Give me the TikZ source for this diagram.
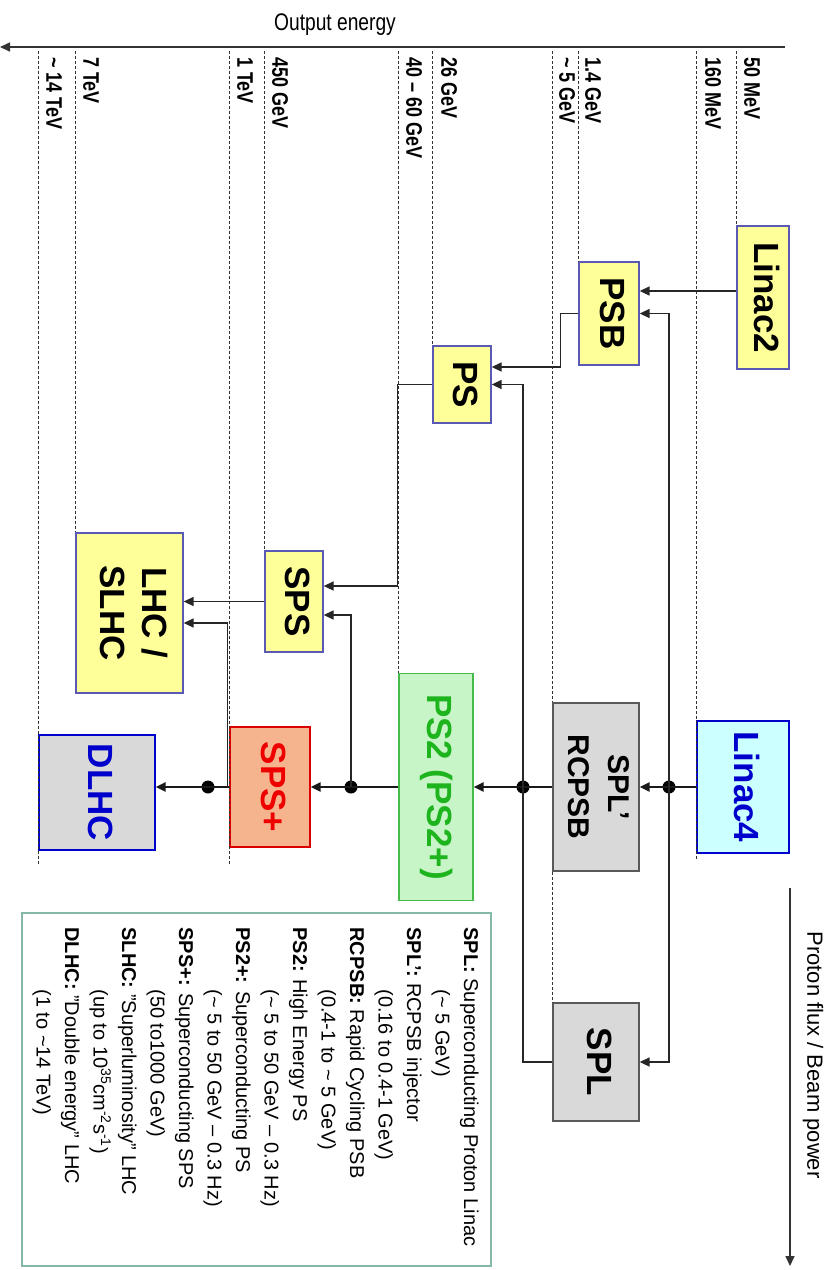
\documentclass[tikz,border=0pt]{standalone}
\usepackage{fontspec}
\setmainfont{Liberation Sans}
\newfontfamily\narrowfont[FakeStretch=0.8]{Liberation Sans}
\usetikzlibrary{arrows.meta}

\definecolor{boxyellow}{HTML}{FFFF99}
\definecolor{boxblue}{HTML}{5A5AB4}
\definecolor{boxgrey}{HTML}{D9D9D9}
\definecolor{boxcyan}{HTML}{CCFFFF}
\definecolor{boxgreen}{HTML}{C8F5C8}
\definecolor{boxsalmon}{HTML}{F6B48E}
\definecolor{txtblue}{HTML}{0000CC}
\definecolor{txtgreen}{HTML}{1EB41E}
\definecolor{txtred}{HTML}{EE0000}
\definecolor{legteal}{HTML}{86B8A8}

\newcommand{\vtext}[1]{\rotatebox{-90}{\begin{tabular}{@{}c@{}}#1\end{tabular}}}

\begin{document}
\begin{tikzpicture}[
    x=1pt, y=-1pt,
    font=\fontsize{22}{26}\selectfont,
    box/.style={
        draw=boxblue,
        fill=boxyellow,
        line width=1.3pt,
        inner sep=2pt,
        font=\fontsize{35}{42}\selectfont\bfseries
    },
    greybox/.style={box, draw=black!65, fill=boxgrey},
    level/.style={draw=black!80, line width=1.2pt, dash pattern=on 3pt off 2pt},
    flow/.style={-{Triangle[length=10pt,width=9pt]}, line width=1.6pt, draw=black!85},
    main/.style={flow, line width=2.4pt, draw=black!90},
    link/.style={line width=1.6pt, draw=black!85},
    axisarrow/.style={-{Triangle[length=10pt,width=9pt]}, line width=1.6pt, draw=black!80},
    dot/.style={circle, fill=black, inner sep=0pt, minimum size=13pt},
    elabel/.style={rotate=-90, anchor=south west, inner sep=1pt,
        font=\narrowfont\fontsize{22.5}{24}\selectfont\bfseries}
]

\useasboundingbox (0,0) rectangle (833,1270);

% ============================================================
% AXES
% ============================================================
\coordinate (axisR) at (785,47);
\coordinate (axisL) at (0,47);
\coordinate (lvl) at (0,51);
\draw[axisarrow] (axisR) -- (axisL);
\node (outlbl) at (335,25) {\narrowfont\fontsize{24}{26}\selectfont Output energy};

\coordinate (fluxT) at (790,888);
\coordinate (fluxB) at (790,1266);
\draw[axisarrow] (fluxT) -- (fluxB);
\node[rotate=-90] (fluxlbl) at (813,1055) {Proton flux / Beam power};

% ============================================================
% MACHINES
% ============================================================
\node[box, minimum width=52pt, minimum height=143pt] (linac2) at (763,297.5) {\vtext{Linac2}};
\node[box, minimum width=60pt, minimum height=103pt] (psb) at (609,313.5) {\vtext{PSB}};
\node[box, minimum width=58pt, minimum height=77pt] (ps) at (462,384.5) {\vtext{PS}};
\node[box, minimum width=58pt, minimum height=101pt] (sps) at (294,601.5) {\vtext{SPS}};
\node[box, minimum width=107pt, minimum height=160pt] (lhc) at (129.5,613) {\vtext{LHC /\\SLHC}};

\node[box, draw=txtblue, fill=boxcyan, text=txtblue,
      minimum width=92pt, minimum height=132pt] (linac4) at (743,787) {\vtext{Linac4}};
\node[greybox, font=\fontsize{30}{40}\selectfont\bfseries,
      minimum width=86pt, minimum height=168pt] (rcpsb) at (596,787) {\vtext{SPL’\\RCPSB}};
\node[box, draw=green!45!gray, fill=boxgreen, text=txtgreen,
      minimum width=74pt, minimum height=227pt] (ps2) at (436,787) {\vtext{PS2 (PS2+)}};
\node[box, draw=red!85!black, fill=boxsalmon, text=txtred,
      minimum width=80pt, minimum height=120pt] (spsp) at (270,787) {\vtext{SPS+}};
\node[box, draw=txtblue, fill=boxgrey, text=txtblue,
      minimum width=116pt, minimum height=115pt] (dlhc) at (97,792.5) {\vtext{DLHC}};
\node[greybox, minimum width=86pt, minimum height=118pt] (spl) at (596,1062) {\vtext{SPL}};

% ============================================================
% ENERGY LEVELS
% ============================================================
\draw[level] (linac2.north west |- lvl) -- (linac2.north west);
\draw[level] (linac4.north west |- lvl) -- ([yshift=-5pt]linac4.south west);
\draw[level] (psb.north west |- lvl) -- (psb.north west);
\draw[level] (rcpsb.north west |- lvl) -- (rcpsb.north west);
\draw[level] (rcpsb.south west) -- (spl.north west);
\draw[level] (ps.north west |- lvl) -- (ps.north west);
\draw[level] (ps2.north west |- lvl) -- (ps2.north west);
\draw[level] (sps.north west |- lvl) -- (sps.north west);
\draw[level] (spsp.north west |- lvl) -- ([yshift=-17pt]spsp.south west);
\draw[level] (lhc.north west |- lvl) -- (lhc.north west);
\draw[level] (dlhc.north west |- lvl) -- ([yshift=-15pt]dlhc.south west);

\node[elabel] (e50) at (743,56) {50 MeV};
\node[elabel] (e160) at (704,56) {160 MeV};
\node[elabel] (e14g) at (584,56) {1.4 GeV};
\node[elabel] (e5g) at (558,56) {\textasciitilde\ 5 GeV};
\node[elabel] (e26) at (440,56) {26 GeV};
\node[elabel] (e4060) at (405,56) {40 – 60 GeV};
\node[elabel] (e450) at (271,56) {450 GeV};
\node[elabel] (e1t) at (236,56) {1 TeV};
\node[elabel] (e7t) at (82,56) {7 TeV};
\node[elabel] (e14t) at (45,56) {\textasciitilde\ 14 TeV};

% ============================================================
% PRESENT CHAIN
% ============================================================
\node[dot] (d1) at (669,787) {};
\node[dot] (d2) at (523,787) {};
\node[dot] (d3) at (351,787) {};
\node[dot] (d4) at (208,787) {};

\draw[flow] ([yshift=6.5pt]linac2.west) -- ([yshift=22.5pt]psb.east);
\draw[flow] (psb.west) -- ++(-18,0) |- ([yshift=17.5pt]ps.east);
\draw[flow] (ps.west) -- ++(-35,0) |- ([yshift=15.5pt]sps.east);
\draw[flow] (sps.west) -- (sps.west -| lhc.east);

% ============================================================
% UPGRADE CHAIN
% ============================================================
\draw[main] (linac4.west) -- (rcpsb.east);
\draw[main] (rcpsb.west) -- (ps2.east);
\draw[main] (ps2.west) -- (spsp.east);
\draw[main] (spsp.west) -- (spsp.west -| dlhc.east);

\draw[flow] (d1.center) |- (psb.east);
\draw[flow] (d1.center) |- (spl.east);
\draw[link] (spl.west) -| (d2.center);
\draw[flow] (d2.center) |- (ps.east);
\draw[flow] (d3.center) |- ([yshift=-13.5pt]sps.east);
\draw[flow] ([xshift=-2pt]spsp.west) |- ([yshift=-10pt]lhc.east);

% ============================================================
% LEGEND
% ============================================================
\node[draw=legteal, line width=1.5pt, minimum width=469pt, minimum height=353pt]
    (legend) at (256.5,1089.5) {};
\node[rotate=-90, anchor=north west, align=left, inner sep=0pt,
      font=\fontsize{20}{28.5}\selectfont]
    (legtxt) at ([xshift=-13pt,yshift=-15pt]legend.north east) {%
\textbf{SPL:} Superconducting Proton Linac\\
\hspace*{62pt}(\textasciitilde\ 5 GeV)\\
\textbf{SPL’:} RCPSB injector\\
\hspace*{62pt}(0.16 to 0.4-1 GeV)\\
\textbf{RCPSB:} Rapid Cycling PSB\\
\hspace*{62pt}(0.4-1 to \textasciitilde\ 5 GeV)\\
\textbf{PS2:} High Energy PS\\
\hspace*{62pt}(\textasciitilde\ 5 to 50 GeV – 0.3 Hz)\\
\textbf{PS2+:} Superconducting PS\\
\hspace*{62pt}(\textasciitilde\ 5 to 50 GeV – 0.3 Hz)\\
\textbf{SPS+:} Superconducting SPS\\
\hspace*{62pt}(50 to1000 GeV)\\
\textbf{SLHC:} "Superluminosity" LHC\\
\hspace*{62pt}(up to 10\textsuperscript{35}cm\textsuperscript{-2}s\textsuperscript{-1})\\
\textbf{DLHC:} "Double energy" LHC\\
\hspace*{62pt}(1 to \textasciitilde14 TeV)};

\end{tikzpicture}
\end{document}
